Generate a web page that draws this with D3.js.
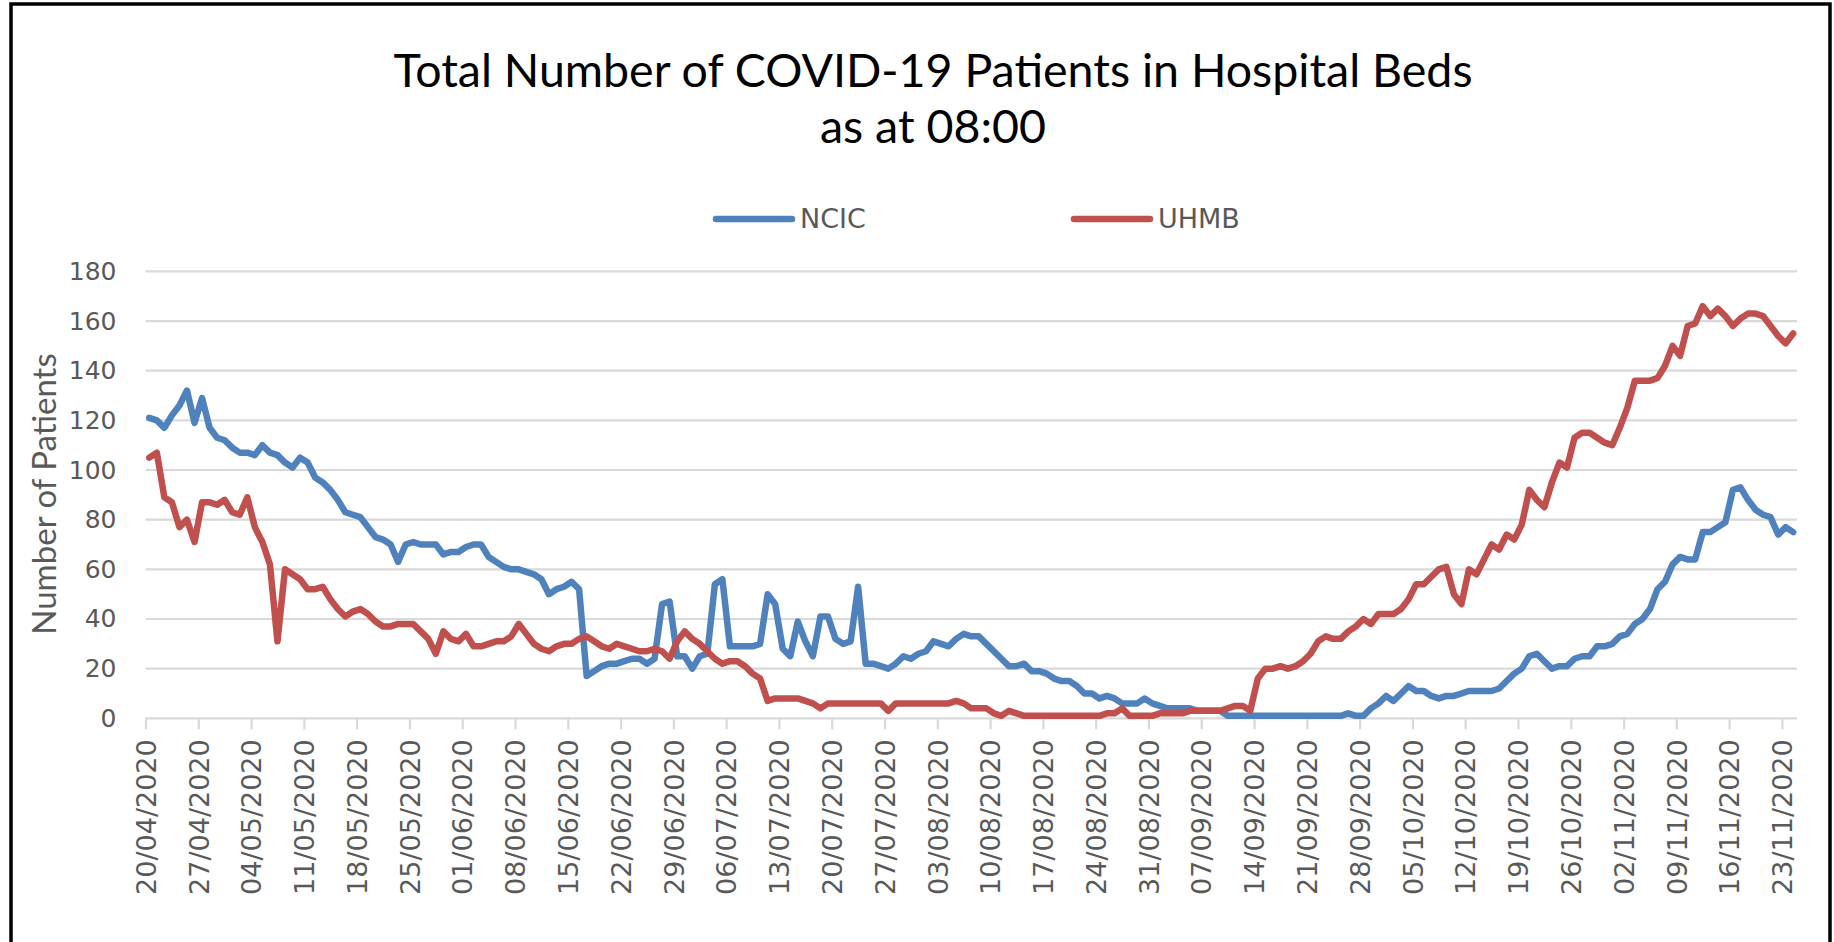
<!DOCTYPE html>
<html>
<head>
<meta charset="utf-8">
<script src="https://cdn.jsdelivr.net/npm/d3@7/dist/d3.min.js"></script>
<style>
  body { margin: 0; background: #fff; }
  svg { display: block; }
</style>
</head>
<body>
<div id="root"></div>
<script>
// Data (daily values, 20/04/2020 .. 24/11/2020)
const startDate = '20/04/2020';

const tickLabels = [
  '20/04/2020', '27/04/2020', '04/05/2020', '11/05/2020', '18/05/2020',
  '25/05/2020', '01/06/2020', '08/06/2020', '15/06/2020', '22/06/2020',
  '29/06/2020', '06/07/2020', '13/07/2020', '20/07/2020', '27/07/2020',
  '03/08/2020', '10/08/2020', '17/08/2020', '24/08/2020', '31/08/2020',
  '07/09/2020', '14/09/2020', '21/09/2020', '28/09/2020', '05/10/2020',
  '12/10/2020', '19/10/2020', '26/10/2020', '02/11/2020', '09/11/2020',
  '16/11/2020', '23/11/2020',
];

const yTicks = [0, 20, 40, 60, 80, 100, 120, 140, 160, 180];

const ncic = [
  121, 120, 117, 122, 126, 132, 119, 129, 117, 113,
  112, 109, 107, 107, 106, 110, 107, 106, 103, 101,
  105, 103, 97, 95, 92, 88, 83, 82, 81, 77,
  73, 72, 70, 63, 70, 71, 70, 70, 70, 66,
  67, 67, 69, 70, 70, 65, 63, 61, 60, 60,
  59, 58, 56, 50, 52, 53, 55, 52, 17, 19,
  21, 22, 22, 23, 24, 24, 22, 24, 46, 47,
  25, 25, 20, 25, 26, 54, 56, 29, 29, 29,
  29, 30, 50, 46, 28, 25, 39, 31, 25, 41,
  41, 32, 30, 31, 53, 22, 22, 21, 20, 22,
  25, 24, 26, 27, 31, 30, 29, 32, 34, 33,
  33, 30, 27, 24, 21, 21, 22, 19, 19, 18,
  16, 15, 15, 13, 10, 10, 8, 9, 8, 6,
  6, 6, 8, 6, 5, 4, 4, 4, 4, 3,
  3, 3, 3, 1, 1, 1, 1, 1, 1, 1,
  1, 1, 1, 1, 1, 1, 1, 1, 1, 2,
  1, 1, 4, 6, 9, 7, 10, 13, 11, 11,
  9, 8, 9, 9, 10, 11, 11, 11, 11, 12,
  15, 18, 20, 25, 26, 23, 20, 21, 21, 24,
  25, 25, 29, 29, 30, 33, 34, 38, 40, 44,
  52, 55, 62, 65, 64, 64, 75, 75, 77, 79,
  92, 93, 88, 84, 82, 81, 74, 77, 75,
];

const uhmb = [
  105, 107, 89, 87, 77, 80, 71, 87, 87, 86,
  88, 83, 82, 89, 77, 71, 62, 31, 60, 58,
  56, 52, 52, 53, 48, 44, 41, 43, 44, 42,
  39, 37, 37, 38, 38, 38, 35, 32, 26, 35,
  32, 31, 34, 29, 29, 30, 31, 31, 33, 38,
  34, 30, 28, 27, 29, 30, 30, 32, 33, 31,
  29, 28, 30, 29, 28, 27, 27, 28, 27, 24,
  31, 35, 32, 30, 27, 24, 22, 23, 23, 21,
  18, 16, 7, 8, 8, 8, 8, 7, 6, 4,
  6, 6, 6, 6, 6, 6, 6, 6, 3, 6,
  6, 6, 6, 6, 6, 6, 6, 7, 6, 4,
  4, 4, 2, 1, 3, 2, 1, 1, 1, 1,
  1, 1, 1, 1, 1, 1, 1, 2, 2, 4,
  1, 1, 1, 1, 2, 2, 2, 2, 3, 3,
  3, 3, 3, 4, 5, 5, 3, 16, 20, 20,
  21, 20, 21, 23, 26, 31, 33, 32, 32, 35,
  37, 40, 38, 42, 42, 42, 44, 48, 54, 54,
  57, 60, 61, 50, 46, 60, 58, 64, 70, 68,
  74, 72, 78, 92, 88, 85, 95, 103, 101, 113,
  115, 115, 113, 111, 110, 117, 125, 136, 136, 136,
  137, 142, 150, 146, 158, 159, 166, 162, 165, 162,
  158, 161, 163, 163, 162, 158, 154, 151, 155,
];

const seriesNames = ['NCIC', 'UHMB'];
const colours = ['#4f81bd', '#c0504d'];

// Layout
const width = 1834;
const height = 942;
const margin = { top: 271.4, right: 37, bottom: 223.7, left: 145.5 };
const graphWidth = width - margin.left - margin.right;
const graphHeight = height - margin.top - margin.bottom;

const parseDate = d3.utcParse('%d/%m/%Y');
const start = parseDate(startDate);
const dates = ncic.map((d, i) => d3.utcDay.offset(start, i));
const end = d3.utcDay.offset(start, ncic.length);

const svg = d3.select('#root').append('svg')
  .attr('width', width)
  .attr('height', height);

// chart border
svg.append('rect')
  .attr('x', 11).attr('y', 4)
  .attr('width', 1819).attr('height', 960)
  .attr('fill', 'none')
  .attr('stroke', '#000')
  .attr('stroke-width', 3.5);

const graph = svg.append('g')
  .attr('transform', `translate(${margin.left}, ${margin.top})`);

const xScale = d3.scaleUtc().domain([start, end]).range([0, graphWidth]);
const yScale = d3.scaleLinear().domain([0, 180]).range([graphHeight, 0]);

// gridlines
graph.append('g')
  .selectAll('line')
  .data(yTicks)
  .enter()
  .append('line')
  .attr('x1', 0)
  .attr('x2', graphWidth)
  .attr('y1', (d) => yScale(d))
  .attr('y2', (d) => yScale(d))
  .attr('stroke', '#d9d9d9')
  .attr('stroke-width', 2.2);

// Y axis
const yAxis = d3.axisLeft(yScale).tickValues(yTicks).tickSize(0).tickPadding(29);
const yAxisGroup = graph.append('g').attr('id', 'y-axis').call(yAxis);
yAxisGroup.select('.domain').remove();
yAxisGroup.selectAll('text')
  .attr('fill', '#595959')
  .style('font-family', 'DejaVu Sans, sans-serif')
  .style('font-size', '25px');

// X axis
const tickDates = tickLabels.map(parseDate);
const xAxis = d3.axisBottom(xScale)
  .tickValues(tickDates)
  .tickSize(11)
  .tickFormat((d, i) => tickLabels[i]);
const xAxisGroup = graph.append('g')
  .attr('id', 'x-axis')
  .attr('transform', `translate(0, ${graphHeight})`)
  .call(xAxis);
xAxisGroup.select('.domain').remove();
xAxisGroup.selectAll('line').attr('stroke', '#d9d9d9').attr('stroke-width', 2.2);
xAxisGroup.selectAll('text')
  .attr('fill', '#595959')
  .attr('transform', 'rotate(-90)')
  .attr('text-anchor', 'end')
  .attr('x', -21)
  .attr('y', 0)
  .attr('dy', '0.36em')
  .style('font-family', 'DejaVu Sans, sans-serif')
  .style('font-size', '27px');

// Lines
const halfDay = 12 * 60 * 60 * 1000;
const line = d3.line()
  .x((d, i) => xScale(new Date(dates[i].getTime() + halfDay)))
  .y((d) => yScale(d));

[ncic, uhmb].forEach((values, k) => {
  graph.append('path')
    .datum(values)
    .attr('class', 'line')
    .attr('d', line)
    .attr('fill', 'none')
    .attr('stroke', colours[k])
    .attr('stroke-width', 6.5)
    .attr('stroke-linejoin', 'round')
    .attr('stroke-linecap', 'round');
});

// Title
const title = svg.append('text')
  .attr('text-anchor', 'middle')
  .attr('fill', '#000')
  .style('font-family', 'Lato, sans-serif')
  .style('font-size', '46.5px');
title.append('tspan').attr('x', 933).attr('y', 87)
  .text('Total Number of COVID-19 Patients in Hospital Beds');
title.append('tspan').attr('x', 933).attr('y', 143)
  .text('as at 08:00');

// Y axis title
svg.append('text')
  .attr('transform', 'translate(56, 494) rotate(-90)')
  .attr('text-anchor', 'middle')
  .attr('fill', '#595959')
  .style('font-family', 'Lato, sans-serif')
  .style('font-size', '33px')
  .text('Number of Patients');

// Legend
const legendX = [716, 1074];
const legend = svg.append('g').attr('id', 'legend');
seriesNames.forEach((name, k) => {
  legend.append('line')
    .attr('x1', legendX[k]).attr('x2', legendX[k] + 76)
    .attr('y1', 219).attr('y2', 219)
    .attr('stroke', colours[k])
    .attr('stroke-width', 6.5)
    .attr('stroke-linecap', 'round');
  legend.append('text')
    .attr('x', legendX[k] + 84)
    .attr('y', 219)
    .attr('dy', '0.35em')
    .attr('fill', '#595959')
    .style('font-family', 'DejaVu Sans, sans-serif')
    .style('font-size', '27px')
    .text(name);
});
</script>
</body>
</html>
